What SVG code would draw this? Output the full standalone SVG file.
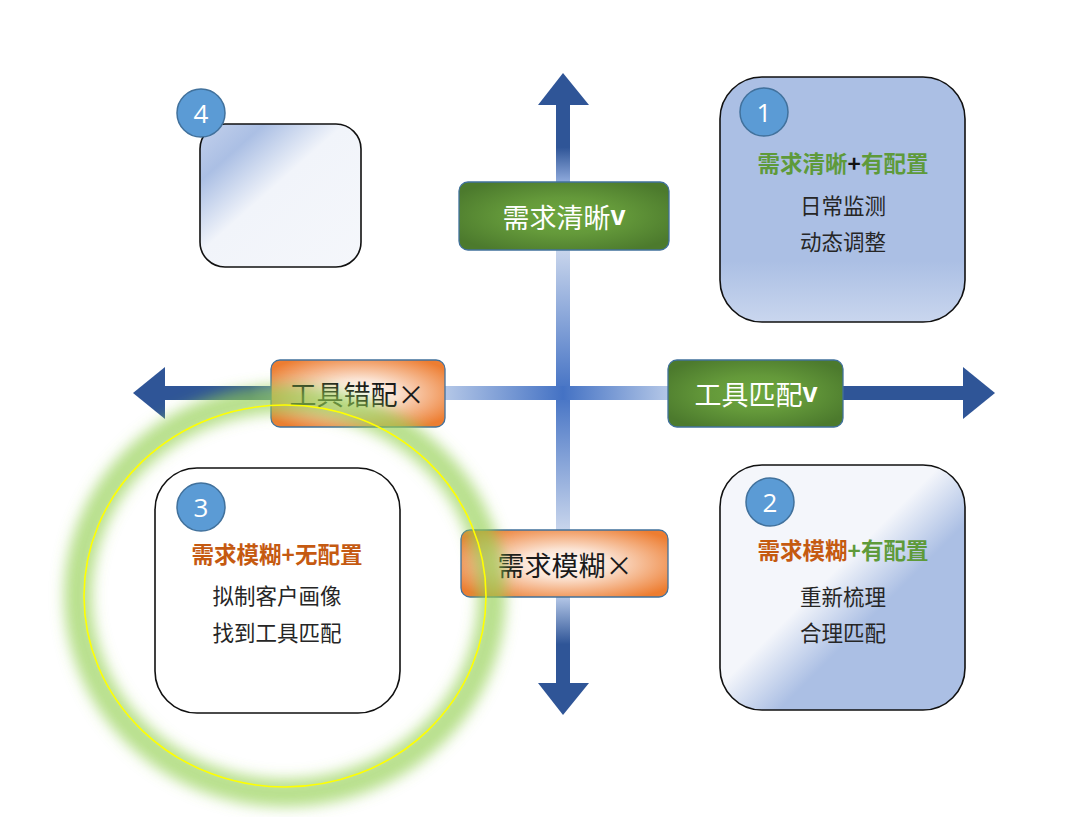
<svg xmlns="http://www.w3.org/2000/svg" width="1080" height="817" viewBox="0 0 1080 817">
<style>
.lbl{font-family:"Noto Sans CJK SC","Liberation Serif",serif;font-size:27px;text-anchor:middle;dominant-baseline:central}
.wt{fill:#ffffff}
.bk{fill:#1a1a1a}
.tt{font-family:"Noto Sans CJK SC","Liberation Sans",sans-serif;font-size:22.5px;font-weight:bold;text-anchor:middle;dominant-baseline:central}
.ln{font-family:"Noto Sans CJK SC","Liberation Serif",serif;font-size:21.5px;fill:#262626;text-anchor:middle;dominant-baseline:central}
.num{font-family:"Open Sans","Liberation Sans",sans-serif;font-size:26px;fill:#ffffff;text-anchor:middle;dominant-baseline:central}
.badge{fill:#5b9bd5;stroke:#41719c;stroke-width:1.5}
.box{stroke:#111111;stroke-width:1.6}
.green{fill:#5e9a3a}
.orange{fill:#c55a11}
.glab{fill:url(#gG);stroke:#41719c;stroke-width:1.3}
.olab{fill:url(#gO);stroke:#41719c;stroke-width:1.3}
.head{fill:#2f5597}
</style>
<defs>
<radialGradient id="gG" cx="50%" cy="50%" r="60%">
<stop offset="0" stop-color="#6ea83f"/>
<stop offset="0.45" stop-color="#64993a"/>
<stop offset="1" stop-color="#4c7a2d"/>
</radialGradient>
<radialGradient id="gO" cx="50%" cy="50%" r="62%">
<stop offset="0" stop-color="#ffffff"/>
<stop offset="0.35" stop-color="#fbe3d3"/>
<stop offset="1" stop-color="#ed7d31"/>
</radialGradient>
<linearGradient id="g1" x1="0" y1="0" x2="0" y2="1">
<stop offset="0" stop-color="#abbfe4"/>
<stop offset="0.75" stop-color="#abbfe4"/>
<stop offset="1" stop-color="#c9d6ee"/>
</linearGradient>
<linearGradient id="g2" x1="0" y1="0" x2="1" y2="1">
<stop offset="0" stop-color="#f4f6fb"/>
<stop offset="0.45" stop-color="#f4f6fb"/>
<stop offset="0.62" stop-color="#abbfe4"/>
<stop offset="1" stop-color="#abbfe4"/>
</linearGradient>
<linearGradient id="g4" x1="0" y1="0" x2="1" y2="1">
<stop offset="0" stop-color="#c3d1ec"/>
<stop offset="0.2" stop-color="#abbfe4"/>
<stop offset="0.45" stop-color="#f1f4fa"/>
<stop offset="1" stop-color="#f5f7fb"/>
</linearGradient>
<linearGradient id="vTop" x1="0" y1="105" x2="0" y2="182" gradientUnits="userSpaceOnUse">
<stop offset="0" stop-color="#2f5597"/>
<stop offset="0.55" stop-color="#2f5597"/>
<stop offset="1" stop-color="#8faadc"/>
</linearGradient>
<linearGradient id="vUp" x1="0" y1="250" x2="0" y2="393" gradientUnits="userSpaceOnUse">
<stop offset="0" stop-color="#c8d5ec"/>
<stop offset="1" stop-color="#4472c4"/>
</linearGradient>
<linearGradient id="vDn" x1="0" y1="393" x2="0" y2="530" gradientUnits="userSpaceOnUse">
<stop offset="0" stop-color="#4472c4"/>
<stop offset="1" stop-color="#c8d5ec"/>
</linearGradient>
<linearGradient id="vBot" x1="0" y1="597" x2="0" y2="683" gradientUnits="userSpaceOnUse">
<stop offset="0" stop-color="#b4c7e7"/>
<stop offset="0.55" stop-color="#2f5597"/>
<stop offset="1" stop-color="#2f5597"/>
</linearGradient>
<linearGradient id="hL" x1="445" y1="0" x2="563" y2="0" gradientUnits="userSpaceOnUse">
<stop offset="0" stop-color="#b4c7e7"/>
<stop offset="1" stop-color="#4472c4"/>
</linearGradient>
<linearGradient id="hR" x1="563" y1="0" x2="668" y2="0" gradientUnits="userSpaceOnUse">
<stop offset="0" stop-color="#4472c4"/>
<stop offset="1" stop-color="#b4c7e7"/>
</linearGradient>
<linearGradient id="hFL" x1="165" y1="0" x2="271" y2="0" gradientUnits="userSpaceOnUse">
<stop offset="0" stop-color="#2f5597"/>
<stop offset="0.8" stop-color="#2f5597"/>
<stop offset="1" stop-color="#4a6fb0"/>
</linearGradient>
<filter id="blur" x="-20%" y="-20%" width="140%" height="140%">
<feGaussianBlur stdDeviation="7"/>
</filter>
</defs>
<rect width="1080" height="817" fill="#ffffff"/>

<g id="connectors">
<polygon class="head" points="538,105 563,73 589,105"/>
<rect x="556" y="104" width="14" height="79" fill="url(#vTop)"/>
<rect x="556" y="249" width="14" height="144" fill="url(#vUp)"/>
<rect x="556" y="393" width="14" height="138" fill="url(#vDn)"/>
<rect x="556" y="596" width="14" height="88" fill="url(#vBot)"/>
<polygon class="head" points="538,683 563,715 589,683"/>
<polygon class="head" points="165,367 133,393 165,419"/>
<rect x="164" y="386" width="108" height="14" fill="url(#hFL)"/>
<rect x="444" y="386" width="119" height="14" fill="url(#hL)"/>
<rect x="563" y="386" width="106" height="14" fill="url(#hR)"/>
<rect x="842" y="386" width="122" height="14" fill="#2f5597"/>
<polygon class="head" points="963,367 995,393 963,419"/>
</g>

<g id="label-clear">
<rect class="glab" x="459" y="182" width="210" height="68" rx="9"/>
<text class="lbl wt" x="564" y="216">需求清晰<tspan font-family="Liberation Sans,sans-serif" font-weight="bold">v</tspan></text>
</g>
<g id="label-match">
<rect class="glab" x="668" y="360" width="175" height="67" rx="9"/>
<text class="lbl wt" x="756" y="393">工具匹配<tspan font-family="Liberation Sans,sans-serif" font-weight="bold">v</tspan></text>
</g>
<g id="label-mismatch">
<rect class="olab" x="271" y="360" width="174" height="67" rx="9"/>
<text class="lbl bk" x="357" y="393">工具错配×</text>
</g>
<g id="label-vague">
<rect class="olab" x="461" y="530" width="207" height="67" rx="9"/>
<text class="lbl bk" x="565" y="564">需求模糊×</text>
</g>

<g id="box1">
<rect class="box" x="720" y="77" width="245" height="245" rx="42" fill="url(#g1)"/>
<circle class="badge" cx="764" cy="112" r="24"/>
<text class="num" x="764" y="112">1</text>
<text class="tt" x="843" y="162"><tspan class="green">需求清晰</tspan><tspan fill="#111111">+</tspan><tspan class="green">有配置</tspan></text>
<text class="ln" x="843" y="204">日常监测</text>
<text class="ln" x="843" y="240">动态调整</text>
</g>

<g id="box2">
<rect class="box" x="720" y="465" width="245" height="245" rx="42" fill="url(#g2)"/>
<circle class="badge" cx="770" cy="502" r="24"/>
<text class="num" x="770" y="502">2</text>
<text class="tt" x="843" y="549"><tspan class="orange">需求模糊</tspan><tspan class="green">+有配置</tspan></text>
<text class="ln" x="843" y="595">重新梳理</text>
<text class="ln" x="843" y="631">合理匹配</text>
</g>

<g id="box3">
<rect class="box" x="155" y="468" width="245" height="245" rx="42" fill="#ffffff"/>
<circle class="badge" cx="201" cy="507" r="24"/>
<text class="num" x="201" y="507">3</text>
<text class="tt orange" x="277" y="553">需求模糊+无配置</text>
<text class="ln" x="277" y="594">拟制客户画像</text>
<text class="ln" x="277" y="631">找到工具匹配</text>
</g>

<g id="box4">
<rect class="box" x="200" y="124" width="161" height="143" rx="25" fill="url(#g4)"/>
<circle class="badge" cx="201" cy="113" r="24"/>
<text class="num" x="201" y="113">4</text>
</g>

<g id="highlight">
<ellipse cx="285" cy="596" rx="207" ry="197" fill="none" stroke="#92d050" stroke-width="28" stroke-opacity="0.65" filter="url(#blur)"/>
<ellipse cx="285" cy="596" rx="201" ry="191" fill="none" stroke="#ffff00" stroke-width="1.6"/>
</g>
</svg>
